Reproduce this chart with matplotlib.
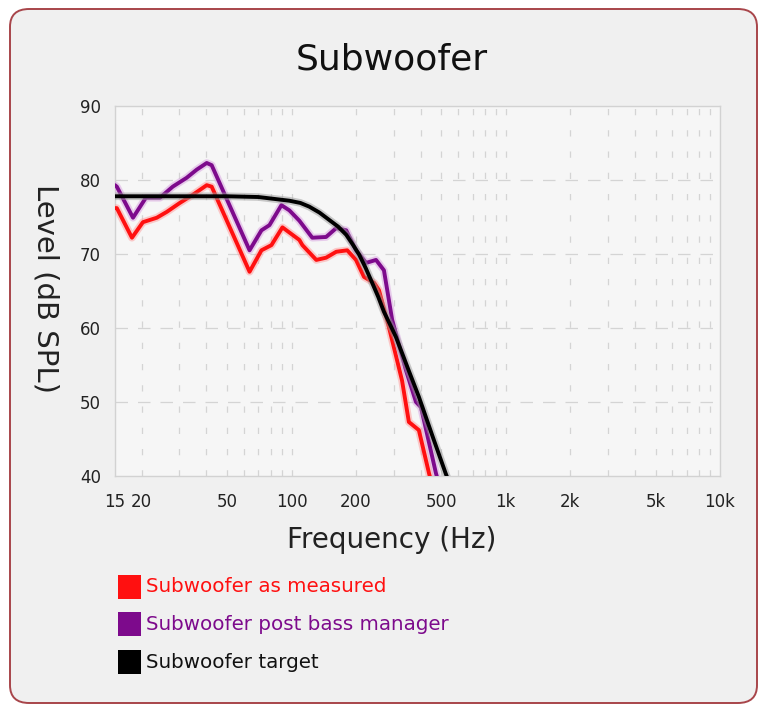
import matplotlib
matplotlib.use("Agg")
import matplotlib.pyplot as plt
import matplotlib.patheffects as pe
from matplotlib.patches import FancyBboxPatch, Rectangle
from matplotlib.ticker import FixedLocator, NullFormatter, NullLocator

# ---- data ----
title = "Subwoofer"
x_label = "Frequency (Hz)"
y_label = "Level (dB SPL)"
x_ticks = [15, 20, 50, 100, 200, 500, 1000, 2000, 5000, 10000]
x_tick_labels = ["15", "20", "50", "100", "200", "500", "1k", "2k", "5k", "10k"]
y_ticks = [40, 50, 60, 70, 80, 90]

measured_f = [15, 15.3, 18.0, 20.25, 23.5, 26.2, 30.1, 34.6, 40.2, 42.4, 63.7, 72.4, 80.6,
              90.7, 108.8, 112.4, 130.5, 145, 161.7, 182, 200, 218, 243, 256, 285, 328,
              353, 393, 438, 480]
measured_db = [76.2, 76.2, 72.2, 74.3, 74.9, 75.7, 76.9, 78.0, 79.3, 79.1, 67.6, 70.5, 71.2,
               73.6, 71.9, 71.2, 69.2, 69.5, 70.3, 70.5, 69.2, 66.9, 66.1, 65.1, 60.1, 52.9,
               47.3, 46.2, 40.4, 36.0]

post_f = [15, 15.3, 18.2, 20.9, 24.3, 27.9, 32.4, 36.1, 40.2, 42.4, 63.7, 72.4, 78.9, 89.7,
          97.7, 108.8, 125, 145, 161.7, 180, 200, 223, 248, 270, 295, 342, 381, 402, 472, 520]
post_db = [79.3, 79.1, 74.9, 77.6, 77.6, 79.1, 80.3, 81.4, 82.3, 82.0, 70.5, 73.2, 73.9, 76.6,
           75.9, 74.5, 72.2, 72.3, 73.5, 73.2, 70.5, 68.8, 69.2, 67.8, 61.1, 54.3, 50.0,
           49.3, 40.4, 36.0]

target_f = [15, 20, 30, 50, 70, 97.7, 110, 121, 135, 150, 165, 180, 193, 207, 222, 238, 254,
            270, 288, 307, 353, 393, 460, 525, 600]
target_db = [77.8, 77.8, 77.8, 77.8, 77.7, 77.2, 76.9, 76.4, 75.6, 74.6, 73.7, 72.6, 71.3,
             69.9, 68.1, 66.1, 64.2, 62.2, 60.5, 58.8, 54.2, 50.7, 45.0, 40.3, 36.0]

series_labels = ["Subwoofer as measured", "Subwoofer post bass manager", "Subwoofer target"]
series_colors = ["#ff1010", "#7d0a8c", "#000000"]

# ---- figure ----
W, H = 767, 712
fig = plt.figure(figsize=(W / 100, H / 100), dpi=100)
fig.patch.set_facecolor("white")

card = FancyBboxPatch((10 / W, 9 / H), (747 / W), (694 / H),
                      boxstyle="round,pad=0,rounding_size=0.025",
                      transform=fig.transFigure, facecolor="#f0f0f0",
                      edgecolor="#a8454a", linewidth=1.4, zorder=-10)
fig.patches.append(card)

ax = fig.add_axes([115 / W, 1 - 476 / H, (720 - 115) / W, (476 - 106) / H])
ax.set_zorder(5)
ax.set_facecolor("#f6f6f6")
ax.set_xscale("log")
ax.set_xlim(15, 10000)
ax.set_ylim(40, 90)

for s in ax.spines.values():
    s.set_color("#d2d2d2")
    s.set_linewidth(1.0)

ax.xaxis.set_major_locator(FixedLocator(x_ticks))
ax.set_xticklabels(x_tick_labels)
ax.xaxis.set_minor_locator(NullLocator())
ax.xaxis.set_minor_formatter(NullFormatter())
ax.set_yticks(y_ticks)
ax.tick_params(axis="both", length=0, labelsize=12, colors="#222222", pad=10)
ax.tick_params(axis="x", pad=12)

# grid
grid_f = []
for dec in [10, 100, 1000]:
    for m in range(1, 10):
        v = dec * m
        if 15 < v < 10000:
            grid_f.append(v)
for v in grid_f:
    ax.axvline(v, color="#d4d4d4", lw=0.9, dashes=(5, 12), zorder=1)
for v in y_ticks[1:-1]:
    ax.axhline(v, color="#d4d4d4", lw=0.9, dashes=(10, 8), zorder=1)

xs = [measured_f, post_f, target_f]
ys = [measured_db, post_db, target_db]
glows = ["#ff9a9a", "#d7a0e0", "#9a9a9a"]
for i in range(3):
    ax.plot(xs[i], ys[i], color=series_colors[i], lw=2.8, solid_capstyle="round",
            solid_joinstyle="round", zorder=3 + i,
            path_effects=[pe.Stroke(linewidth=5.5, foreground=glows[i], alpha=0.5),
                          pe.Normal()])

fig.text(392 / W, 1 - 60 / H, title, ha="center", va="center", fontsize=26, color="#111111")
fig.text(392 / W, 1 - 540 / H, x_label, ha="center", va="center", fontsize=20, color="#222222")
fig.text(45 / W, 1 - 289 / H, y_label, ha="center", va="center", fontsize=21,
         rotation=270, color="#222222")

# legend
leg_y = [587, 624, 662]
for i in range(3):
    fig.patches.append(Rectangle((118 / W, 1 - (leg_y[i] + 12) / H), 23 / W, 24 / H,
                                 transform=fig.transFigure, facecolor=series_colors[i],
                                 edgecolor="none", zorder=2))
    fig.text(146 / W, 1 - leg_y[i] / H, series_labels[i], ha="left", va="center",
             fontsize=14.3, color=series_colors[i] if i < 2 else "#111111")

fig.savefig("out.png", dpi=100, facecolor=fig.get_facecolor())
